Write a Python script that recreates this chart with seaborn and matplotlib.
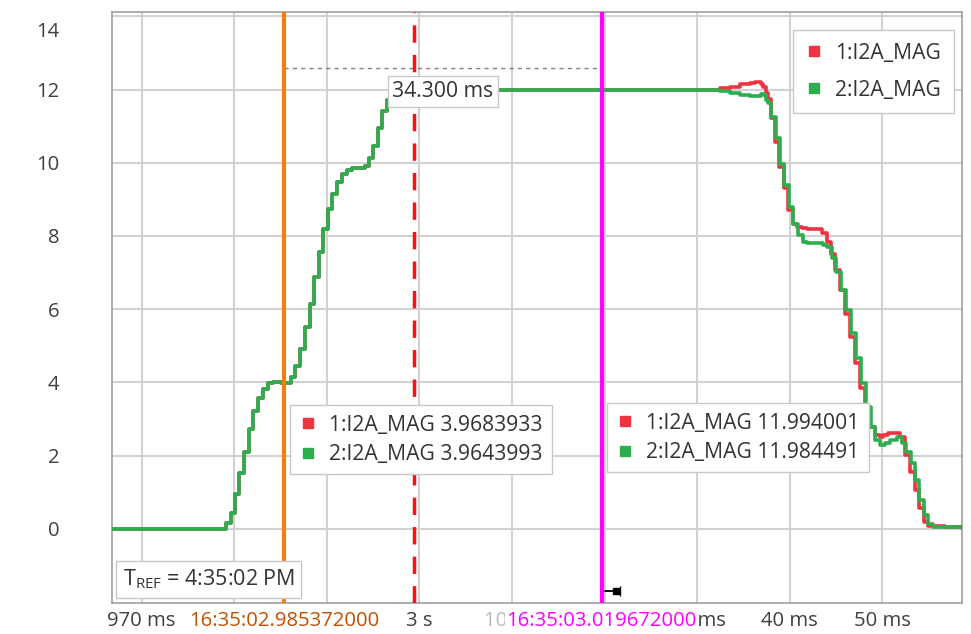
import numpy as np
import pandas as pd
import matplotlib
matplotlib.use("Agg")
import matplotlib.pyplot as plt
from matplotlib.lines import Line2D
from matplotlib.transforms import ScaledTranslation, blended_transform_factory
import seaborn as sns

# ---------------- data (time in ms after 16:35:02.000) ----------------
rise_t = [966.8, 979.10, 979.61, 980.08, 980.54, 981.08, 981.59, 982.05, 982.59,
          983.07, 983.61, 984.15, 985.10, 986.09, 986.60, 987.15, 987.64, 988.18,
          988.64, 989.15, 989.61, 990.15, 990.55, 991.06, 991.60, 992.14, 992.68,
          993.36, 994.11, 994.55, 995.01, 995.55, 995.98, 996.46, 996.92, 997.41,
          997.89]
rise_v = [0.0, 0.15, 0.44, 0.94, 1.51, 2.10, 2.72, 3.22, 3.56,
          3.81, 3.97, 4.02, 3.97, 4.15, 4.44, 4.90, 5.50, 6.14,
          6.87, 7.57, 8.18, 8.73, 9.16, 9.48, 9.68, 9.80, 9.85,
          9.86, 9.91, 10.12, 10.46, 10.94, 11.41, 11.71, 11.88, 11.96,
          12.00]

red_fall_t = [1019.67, 1031.37, 1032.45, 1033.50, 1034.60, 1035.70, 1036.20, 1036.50,
              1036.90, 1037.13, 1037.42, 1037.67, 1037.96, 1038.39, 1038.85, 1039.36,
              1039.83, 1040.37, 1040.80, 1041.27, 1041.81, 1043.43, 1043.97, 1044.41,
              1044.87, 1045.41, 1045.95, 1046.49, 1047.03, 1047.57, 1048.11, 1048.65,
              1049.19, 1049.73, 1050.05, 1050.59, 1051.89, 1052.43, 1052.97, 1053.51,
              1053.97, 1054.48, 1054.94, 1056.75, 1058.60]
red_fall_v = [11.994, 12.00, 12.03, 12.08, 12.14, 12.19, 12.21, 12.20,
              12.15, 12.08, 11.90, 11.73, 11.21, 10.57, 9.89, 9.30,
              8.71, 8.34, 8.25, 8.21, 8.18, 8.07, 7.84, 7.52,
              7.07, 6.52, 5.88, 5.25, 4.52, 3.84, 3.29, 2.79,
              2.56, 2.50, 2.56, 2.61, 2.50, 2.01, 1.56, 1.06,
              0.56, 0.19, 0.07, 0.05, 0.02]

green_fall_t = [1019.67, 1031.37, 1032.45, 1033.50, 1034.60, 1035.70, 1036.50, 1036.90,
                1037.20, 1037.42, 1037.67, 1037.96, 1038.47, 1038.93, 1039.40, 1039.90,
                1040.37, 1040.91, 1041.39, 1041.82, 1043.61, 1043.97, 1044.51, 1044.97,
                1045.51, 1046.05, 1046.57, 1047.11, 1047.65, 1048.22, 1048.73, 1049.19,
                1049.73, 1050.27, 1050.81, 1051.53, 1052.07, 1052.54, 1053.05, 1053.51,
                1053.97, 1054.48, 1054.94, 1055.45, 1058.60]
green_fall_v = [11.984, 12.00, 11.97, 11.92, 11.86, 11.82, 11.83, 11.87,
                11.85, 11.71, 11.64, 11.24, 10.67, 9.98, 9.39, 8.80,
                8.34, 8.02, 7.84, 7.80, 7.76, 7.70, 7.39, 7.02,
                6.52, 5.98, 5.34, 4.66, 3.97, 3.33, 2.79, 2.42,
                2.29, 2.33, 2.42, 2.50, 2.33, 2.10, 1.79, 1.33,
                0.78, 0.37, 0.13, 0.06, 0.02]

series_names = ["1:I2A_MAG", "2:I2A_MAG"]
series_colors = ["#EF3340", "#2DAE4E"]

x_ticks = [970, 980, 990, 1000, 1010, 1020, 1030, 1040, 1050]
x_tick_labels = ["970 ms", "980 ms", "990 ms", "3 s", "10 ms", "20 ms", "30 ms", "40 ms", "50 ms"]
y_ticks = [0, 2, 4, 6, 8, 10, 12, 14]

cursor1_t, cursor1_label = 985.372, "16:35:02.985372000"
cursor2_t, cursor2_label = 1019.672, "16:35:03.019672000"
trigger_t = 999.42
cursor1_vals = ["3.9683933", "3.9643993"]
cursor2_vals = ["11.994001", "11.984491"]
delta_label = "34.300 ms"
tref_label = "T$_{\\mathrm{REF}}$ = 4:35:02 PM"

# ---------------- build frame ----------------
rows = []
for name, ft, fv in [(series_names[0], red_fall_t, red_fall_v),
                     (series_names[1], green_fall_t, green_fall_v)]:
    for t, v in zip(rise_t + ft, rise_v + fv):
        rows.append({"t": t, "value": v, "series": name})
df = pd.DataFrame(rows)

# ---------------- figure ----------------
sns.set_theme(style="white")
plt.rcParams["font.family"] = ["Open Sans", "DejaVu Sans"]
plt.rcParams["mathtext.fontset"] = "custom"
plt.rcParams["mathtext.rm"] = "Open Sans"
plt.rcParams["mathtext.it"] = "Open Sans"

TICK_FS = 14.6
BOX_FS = 15.2

fig = plt.figure(figsize=(9.71, 6.34), dpi=100)
ax = fig.add_axes([112 / 971, (634 - 603) / 634, 850 / 971, 591 / 634])

sns.lineplot(data=df, x="t", y="value", hue="series", palette=series_colors,
             hue_order=series_names, estimator=None, sort=True,
             drawstyle="steps-post", linewidth=2.6, legend=False, ax=ax, zorder=3)

ax.set_xlim(966.8, 1058.6)
ax.set_ylim(-2.03, 14.12)
ax.set_xticks(x_ticks)
ax.set_xticklabels(x_tick_labels)
ax.set_yticks(y_ticks)
ax.set_yticklabels([str(v) for v in y_ticks])
ax.set_xlabel("")
ax.set_ylabel("")
ax.grid(True, color="#D2D2D2", linewidth=1.5)
ax.set_axisbelow(True)
for s in ax.spines.values():
    s.set_color("#A0A0A0")
    s.set_linewidth(1.2)
XPAD = 6
ax.tick_params(axis="y", length=0, pad=38, labelsize=TICK_FS, labelcolor="#404040")
ax.tick_params(axis="x", length=0, pad=XPAD, labelsize=TICK_FS, labelcolor="#404040")
ax.get_xticklabels()[4].set_color("#BBBBBB")
lab14 = ax.get_yticklabels()[-1]
lab14.set_transform(lab14.get_transform() + ScaledTranslation(0, -0.13, fig.dpi_scale_trans))

# cursors
ax.axvline(cursor1_t, color="#F08010", linewidth=3, zorder=4)
ax.axvline(cursor2_t, color="#FF00FF", linewidth=3, zorder=4)
ax.axvline(trigger_t, color="#FF1010", linewidth=2.5, linestyle=(0, (5, 3.5)), zorder=4)

# delta measurement
ax.plot([cursor1_t, cursor2_t], [12.6, 12.6], color="#808080", linewidth=1, linestyle=(0, (3, 3)), zorder=2)
ax.text((cursor1_t + cursor2_t) / 2, 11.95, delta_label, ha="center", va="center",
        fontsize=BOX_FS, color="#333333", zorder=6,
        bbox=dict(boxstyle="square,pad=0.22", facecolor="white", edgecolor="#C8C8C8", linewidth=1))

# cursor time labels on the x axis (same baseline as tick labels)
trans = blended_transform_factory(ax.transData, ax.transAxes) + \
    ScaledTranslation(0, -XPAD / 72, fig.dpi_scale_trans)
for t, lab, col in [(cursor1_t, cursor1_label, "#C05000"), (cursor2_t, cursor2_label, "#FF00FF")]:
    ax.text(t, 0, lab, transform=trans, ha="center", va="top",
            fontsize=TICK_FS, color=col, zorder=7, clip_on=False,
            bbox=dict(boxstyle="square,pad=0.05", facecolor="white", edgecolor="none"))

# pin icon at cursor 2
ax.plot([cursor2_t + 0.35, cursor2_t + 2.0], [-1.7, -1.7], color="black", linewidth=1.3, zorder=6)
ax.plot([cursor2_t + 1.6], [-1.7], marker="s", markersize=4, color="black", zorder=6)
ax.plot([cursor2_t + 2.0], [-1.7], marker="|", markersize=7, color="black", zorder=6)

# T_REF box
ax.text(0.0125, 0.02, tref_label, transform=ax.transAxes, ha="left", va="bottom",
        fontsize=BOX_FS + 0.3, color="#333333", zorder=7,
        bbox=dict(boxstyle="square,pad=0.3", facecolor="white", edgecolor="#C8C8C8", linewidth=1))

def handles(labels):
    return [Line2D([], [], linestyle="none", marker="s", markersize=7.5,
                   markerfacecolor=c, markeredgecolor=c, label=l)
            for c, l in zip(series_colors, labels)]

leg_kw = dict(frameon=True, fancybox=False, framealpha=1, edgecolor="#C8C8C8",
              fontsize=BOX_FS, handlelength=0.8, handletextpad=0.6,
              borderaxespad=0)

leg1 = ax.legend(handles=handles(series_names), loc="upper right",
                 bbox_to_anchor=(0.9906, 0.9695), borderpad=0.6, labelspacing=0.75, **leg_kw)
for t in leg1.get_texts():
    t.set_color("#333333")
ax.add_artist(leg1)

leg2 = ax.legend(handles=handles([f"{n} {v}" for n, v in zip(series_names, cursor1_vals)]),
                 loc="upper left", bbox_to_anchor=(0.2094, 0.335),
                 borderpad=0.45, labelspacing=0.4, **leg_kw)
for t in leg2.get_texts():
    t.set_color("#333333")
leg2.set_zorder(8)
ax.add_artist(leg2)

leg3 = ax.legend(handles=handles([f"{n} {v}" for n, v in zip(series_names, cursor2_vals)]),
                 loc="upper left", bbox_to_anchor=(0.5824, 0.3384),
                 borderpad=0.45, labelspacing=0.4, **leg_kw)
for t in leg3.get_texts():
    t.set_color("#333333")
leg3.set_zorder(8)

fig.savefig("out.png", dpi=100)
